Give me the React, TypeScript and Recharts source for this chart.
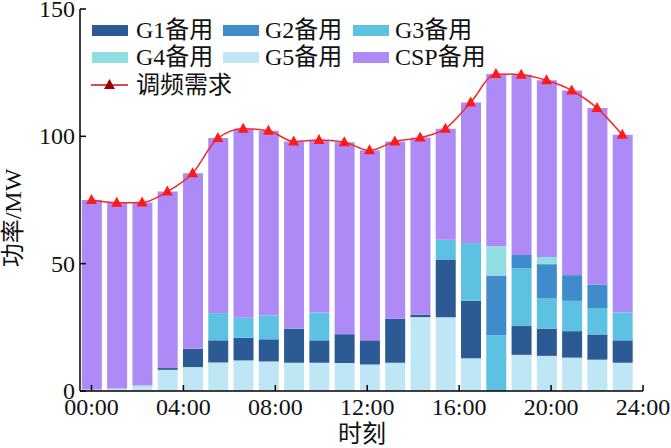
import { ComposedChart, Bar, Line, XAxis, YAxis } from 'recharts';

// slot start times (h) of the 22 dispatch periods, as plotted
const hours = [0, 1.1, 2.2, 3.3, 4.4, 5.5, 6.6, 7.7, 8.8, 9.9, 11.0, 12.1, 13.2, 14.3, 15.4, 16.5, 17.6, 18.7, 19.8, 20.9, 22.0, 23.1];

const g5 = [0.6, 1.0, 2.2, 8.3, 9.4, 11.2, 12.0, 11.6, 11.1, 11.1, 11.0, 10.4, 11.1, 29.0, 29.0, 12.9, 0, 14.2, 13.8, 13.1, 12.3, 11.1];
const g1 = [0, 0, 0, 0.7, 7.2, 8.7, 8.9, 8.7, 13.4, 8.8, 11.3, 9.5, 17.3, 1.0, 22.6, 22.5, 0, 11.3, 10.7, 10.4, 9.9, 8.8];
const g3 = [0, 0, 0, 0, 0, 10.7, 7.9, 9.4, 0, 10.9, 0, 0, 0, 0, 7.8, 22.7, 21.9, 22.7, 11.8, 11.9, 10.4, 10.9];
const g2 = [0, 0, 0, 0, 0, 0, 0, 0, 0, 0, 0, 0, 0, 0, 0, 0, 23.5, 5.2, 13.5, 10.1, 9.2, 0];
const g4 = [0, 0, 0, 0, 0, 0, 0, 0, 0, 0, 0, 0, 0, 0, 0, 0, 11.4, 0, 2.8, 0, 0, 0];
const csp = [74.4, 72.9, 71.8, 69.3, 68.9, 68.7, 74.2, 72.5, 73.5, 67.8, 75.4, 74.6, 69.6, 69.5, 43.6, 55.2, 67.7, 70.8, 69.4, 72.5, 69.3, 69.8];
const demand = [75.0, 73.9, 74.0, 78.3, 85.5, 99.3, 103.0, 102.2, 98.0, 98.6, 97.7, 94.5, 98.0, 99.5, 103.0, 113.3, 124.5, 124.2, 122.0, 118.0, 111.1, 100.6];

const timeTicks = [0, 4, 8, 12, 16, 20, 24];
const powerTicks = [0, 50, 100, 150];

const COLORS = {
  g1: '#2b5a94',
  g2: '#3f8bcb',
  g3: '#5dc2e2',
  g4: '#90dde2',
  g5: '#bfe6f5',
  csp: '#ad8af6',
  line: '#f22a2a',
};

const FONT = "'Liberation Serif', 'Noto Sans CJK SC', serif";

const data = hours.map((h, i) => ({
  hour: h,
  g5: g5[i],
  g1: g1[i],
  g3: g3[i],
  g2: g2[i],
  g4: g4[i],
  csp: csp[i],
  demand: demand[i],
}));

const TimeTick = (props: any) => {
  const { x, y, payload } = props;
  const label = `${String(payload.value).padStart(2, '0')}:00`;
  return (
    <g>
      <line x1={x} y1={y} x2={x} y2={y - 6} stroke="#000" strokeWidth={1.5} />
      <text x={x} y={y + 24} textAnchor="middle" fontSize={24} fontFamily={FONT} fill="#111">
        {label}
      </text>
    </g>
  );
};

const PowerTick = (props: any) => {
  const { x, y, payload } = props;
  return (
    <g>
      <line x1={x} y1={y} x2={x + 6} y2={y} stroke="#000" strokeWidth={1.5} />
      <text x={x - 5} y={y + 8} textAnchor="end" fontSize={24} fontFamily={FONT} fill="#111">
        {payload.value}
      </text>
    </g>
  );
};

const TriangleDot = (props: any) => {
  const { cx, cy, index } = props;
  if (cx == null || cy == null) return null;
  return (
    <polygon
      key={`tri-${index}`}
      points={`${cx},${cy - 6} ${cx - 5.5},${cy + 4} ${cx + 5.5},${cy + 4}`}
      fill="#ff1a1a"
    />
  );
};

const legendItems = [
  { label: 'G1备用', color: COLORS.g1, left: 92, text: 136, top: 30 },
  { label: 'G2备用', color: COLORS.g2, left: 223, text: 265, top: 30 },
  { label: 'G3备用', color: COLORS.g3, left: 353, text: 395, top: 30 },
  { label: 'G4备用', color: COLORS.g4, left: 92, text: 136, top: 57 },
  { label: 'G5备用', color: COLORS.g5, left: 223, text: 265, top: 57 },
  { label: 'CSP备用', color: COLORS.csp, left: 353, text: 395, top: 57 },
];

const textStyle: React.CSSProperties = {
  position: 'absolute',
  fontFamily: FONT,
  fontSize: 24,
  lineHeight: '24px',
  color: '#111',
  whiteSpace: 'nowrap',
};

export default function App() {
  return (
    <div style={{ position: 'absolute', left: 0, top: 0, width: 671, height: 448, background: '#fff' }}>
      <ComposedChart width={671} height={448} data={data} margin={{ top: 9, right: 28, bottom: 0, left: 0 }}>
        <XAxis
          dataKey="hour"
          type="number"
          domain={[-0.5, 24]}
          allowDataOverflow
          ticks={timeTicks}
          interval={0}
          height={57}
          tickSize={0}
          tickMargin={0}
          tickLine={false}
          axisLine={{ stroke: '#000', strokeWidth: 1.5 }}
          tick={<TimeTick />}
        />
        <YAxis
          domain={[0, 150]}
          ticks={powerTicks}
          interval={0}
          width={80}
          tickSize={0}
          tickMargin={0}
          tickLine={false}
          axisLine={{ stroke: '#000', strokeWidth: 1.5 }}
          tick={<PowerTick />}
        />
        <Bar dataKey="g5" stackId="r" fill={COLORS.g5} barSize={20} isAnimationActive={false} />
        <Bar dataKey="g1" stackId="r" fill={COLORS.g1} barSize={20} isAnimationActive={false} />
        <Bar dataKey="g3" stackId="r" fill={COLORS.g3} barSize={20} isAnimationActive={false} />
        <Bar dataKey="g2" stackId="r" fill={COLORS.g2} barSize={20} isAnimationActive={false} />
        <Bar dataKey="g4" stackId="r" fill={COLORS.g4} barSize={20} isAnimationActive={false} />
        <Bar dataKey="csp" stackId="r" fill={COLORS.csp} barSize={20} isAnimationActive={false} />
        <Line
          type="monotone"
          dataKey="demand"
          stroke={COLORS.line}
          strokeWidth={1.5}
          dot={<TriangleDot />}
          activeDot={false}
          isAnimationActive={false}
        />
      </ComposedChart>

      {/* legend, 3 columns */}
      {legendItems.map((it) => (
        <div key={it.label}>
          <div
            style={{
              position: 'absolute',
              left: it.left,
              top: it.top - 5,
              width: 36,
              height: 11,
              background: it.color,
            }}
          />
          <div style={{ ...textStyle, left: it.text, top: it.top - 12 }}>{it.label}</div>
        </div>
      ))}
      <svg style={{ position: 'absolute', left: 90, top: 78 }} width={40} height={14}>
        <line x1={1} y1={7} x2={38} y2={7} stroke="#c0141c" strokeWidth={1.5} />
        <polygon points="19.5,1 14,11 25,11" fill="#a00000" />
      </svg>
      <div style={{ ...textStyle, left: 136, top: 73 }}>调频需求</div>

      {/* axis titles */}
      <div style={{ ...textStyle, left: 362, top: 422, transform: 'translateX(-50%)' }}>时刻</div>
      <div
        style={{
          ...textStyle,
          left: 13,
          top: 218,
          transform: 'translate(-50%, -50%) rotate(-90deg)',
        }}
      >
        功率/MW
      </div>
    </div>
  );
}
